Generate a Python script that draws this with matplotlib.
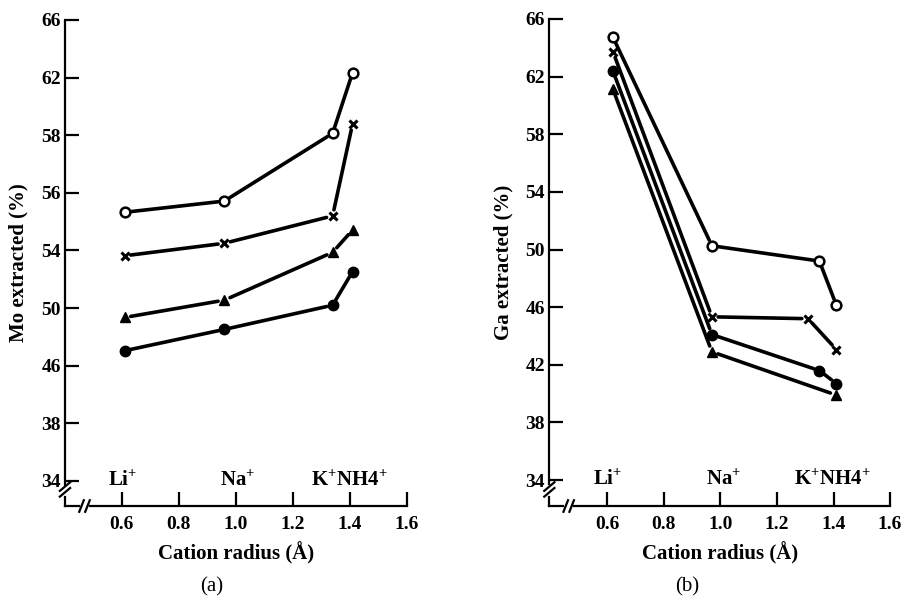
import numpy as np
import matplotlib.pyplot as plt

plt.rcParams["font.family"] = ["Liberation Serif", "DejaVu Serif"]
plt.rcParams["font.weight"] = "bold"
plt.rcParams["axes.labelweight"] = "bold"
plt.rcParams["mathtext.fontset"] = "custom"
plt.rcParams["mathtext.rm"] = "Liberation Serif:bold"
plt.rcParams["mathtext.bf"] = "Liberation Serif:bold"

# panel (a): Mo extracted, y read on the evenly spaced grid of the axis
x_a = [0.61, 0.96, 1.34, 1.41]
mo_open = [52.65, 53.43, 58.13, 62.34]
mo_cross = [49.63, 50.5, 52.4, 58.78]
mo_tri = [45.35, 46.55, 49.87, 51.42]
mo_fill = [43.04, 44.52, 46.2, 48.53]
ytick_labels_a = ["34", "38", "46", "50", "54", "56", "58", "62", "66"]

# panel (b): Ga extracted
x_b = [0.62, 0.97, 1.35, 1.41]
x_b_cross = [0.62, 0.97, 1.31, 1.41]
ga_open = [64.73, 50.26, 49.2, 46.14]
ga_cross = [63.73, 45.33, 45.2, 43.06]
ga_fill = [62.39, 44.1, 41.6, 40.7]
ga_tri = [61.12, 42.9, np.nan, 39.9]
ytick_labels_b = ["34", "38", "42", "46", "50", "54", "58", "62", "66"]

cations = ["Li$^{+}$", "Na$^{+}$", "K$^{+}$NH4$^{+}$"]
cation_x_a = [0.605, 1.005, 1.40]
cation_x_b = [0.60, 1.01, 1.395]

xticks = [0.6, 0.8, 1.0, 1.2, 1.4, 1.6]

styles = {
    "open": dict(marker="o", ms=7, mfc="white", mec="black", mew=1.8),
    "cross": dict(marker="x", ms=6, mec="black", mew=2.2),
    "tri": dict(marker="^", ms=7.5, mfc="black", mec="black"),
    "fill": dict(marker="o", ms=7.5, mfc="black", mec="black"),
}


def draw_series(ax, xs, ys, kind):
    pts = [(x, y) for x, y in zip(xs, ys) if not np.isnan(y)]
    for p1, p2 in zip(pts[:-1], pts[1:]):
        ax.annotate("", xy=p2, xytext=p1,
                    arrowprops=dict(arrowstyle="-", lw=2.6, color="black",
                                    shrinkA=4.5, shrinkB=4.5))
    px, py = zip(*pts)
    ax.plot(px, py, ls="none", clip_on=False, **styles[kind])


def setup(ax, xmin, ymin, yticklabels, ylabel, cation_x, tag, tag_x, ylab_x):
    ax.set_xlim(xmin, 1.6)
    ax.set_ylim(ymin, 66)
    for s in ["top", "right"]:
        ax.spines[s].set_visible(False)
    for s in ["left", "bottom"]:
        ax.spines[s].set_linewidth(1.6)
    ax.spines["left"].set_bounds(33.75, 66)
    ax.spines["bottom"].set_bounds(xmin + 0.088, 1.6)
    ax.set_yticks(np.arange(34, 67, 4))
    ax.set_yticklabels(yticklabels)
    ax.set_xticks(xticks)
    ax.set_xticklabels([f"{t:.1f}" for t in xticks])
    ax.tick_params(axis="both", direction="in", length=10, width=1.6,
                   labelsize=14)
    ax.tick_params(axis="y", pad=3)
    ax.tick_params(axis="x", pad=7)

    # axis break marks
    k = dict(color="black", lw=1.6, clip_on=False)
    ax.plot([xmin, xmin + 0.05], [ymin, ymin], **k)
    for dx in [0.058, 0.079]:
        ax.plot([xmin + dx - 0.008, xmin + dx + 0.008], [ymin - 0.4, ymin + 0.4], **k)
    ax.plot([xmin, xmin], [ymin, ymin + 0.6], **k)
    for dy in [0.95, 1.35]:
        ax.plot([xmin - 0.018, xmin + 0.018], [ymin + dy - 0.3, ymin + dy + 0.3], **k)

    for name, cx in zip(cations, cation_x):
        ax.text(cx, 34.05, name, ha="center", va="center", fontsize=15)

    ax.set_ylabel(ylabel, fontsize=15)
    ax.yaxis.set_label_coords(ylab_x, 0.5)
    ax.set_xlabel("Cation radius (Å)", fontsize=15)
    ax.xaxis.set_label_coords(0.5, -0.074)
    fig.text(tag_x, 1 - 587 / 597, tag, ha="center", va="center",
             fontsize=15, fontweight="normal")


fig = plt.figure(figsize=(9.05, 5.97), dpi=100)
ax_a = fig.add_axes([0.0718, 0.1524, 0.3776, 0.8141])
ax_b = fig.add_axes([0.607, 0.1524, 0.3765, 0.8158])

setup(ax_a, 0.401, 32.26, ytick_labels_a, "Mo extracted (%)", cation_x_a,
      "(a)", 212 / 905, -0.107)
setup(ax_b, 0.395, 32.2, ytick_labels_b, "Ga extracted (%)", cation_x_b,
      "(b)", 687 / 905, -0.104)

draw_series(ax_a, x_a, mo_open, "open")
draw_series(ax_a, x_a, mo_cross, "cross")
draw_series(ax_a, x_a, mo_tri, "tri")
draw_series(ax_a, x_a, mo_fill, "fill")

draw_series(ax_b, x_b, ga_open, "open")
draw_series(ax_b, x_b_cross, ga_cross, "cross")
draw_series(ax_b, x_b, ga_fill, "fill")
draw_series(ax_b, x_b, ga_tri, "tri")

fig.savefig("out.png", dpi=100)
